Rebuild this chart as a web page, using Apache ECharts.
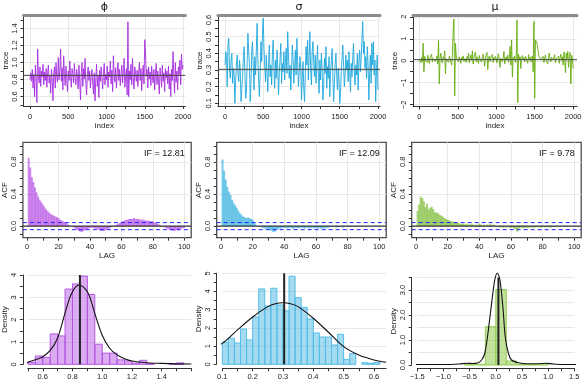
<!DOCTYPE html>
<html>
<head>
<meta charset="utf-8">
<title>MCMC diagnostics</title>
<script src="https://cdn.jsdelivr.net/npm/echarts@6/dist/echarts.min.js"></script>
<style>
html, body { margin: 0; padding: 0; background: #fff; }
#main { width: 585px; height: 390px; }
</style>
</head>
<body>
<div id="main"></div>
<script>
// ---- data ----
var titles = ['\u03d5', '\u03c3', '\u03bc'];
var ifLabels = ['IF = 12.81', 'IF = 12.09', 'IF = 9.78'];

// traces, one value every 10 iterations (0..2000)
var phiTrace = [
    0.80,0.88,0.78,0.92,0.70,0.86,0.60,0.97,0.82,0.53,1.16,0.84,0.76,0.95,0.72,0.90,0.83,0.98,0.74,0.89,
    0.79,0.93,0.71,0.87,0.97,0.76,0.85,0.64,0.92,0.81,0.55,0.88,0.95,0.70,1.00,0.83,0.77,1.06,0.80,0.91,
    1.16,0.78,0.94,0.68,1.08,0.86,0.73,0.96,0.82,0.66,0.90,0.79,1.02,0.84,0.71,0.93,0.87,0.76,0.99,0.81,
    0.74,0.92,0.85,0.69,0.97,0.78,0.56,0.88,1.00,0.72,0.93,0.81,1.05,0.75,0.62,0.86,0.95,0.79,0.90,0.70,
    0.84,0.92,0.76,0.63,0.88,0.55,0.81,0.98,0.72,0.85,0.59,0.91,0.78,0.95,0.82,0.69,0.87,0.99,0.74,0.86,
    0.80,0.96,0.71,0.89,0.83,1.02,0.75,0.91,0.66,1.08,0.85,0.77,0.94,0.70,0.88,1.00,0.79,0.92,0.73,0.86,
    0.97,0.76,0.89,1.05,0.71,0.84,0.93,0.62,1.48,0.60,0.90,0.80,0.98,0.74,1.05,0.83,0.69,0.95,0.86,0.78,
    0.91,0.72,0.88,1.00,0.79,0.93,0.67,0.86,0.97,0.75,1.27,1.12,0.84,0.92,0.70,0.95,0.81,0.89,0.73,0.96,
    0.83,0.76,0.92,0.68,0.87,0.99,0.74,0.90,0.80,0.63,0.94,0.85,0.71,0.97,0.78,0.88,0.66,0.93,0.82,0.90,
    0.75,0.96,0.69,0.87,0.60,0.92,0.79,1.13,0.84,0.64,1.00,0.77,0.90,0.68,0.95,0.86,1.03,0.74,1.10,0.92,
    0.97
];
var sigmaTrace = [
    0.33,0.41,0.38,0.20,0.46,0.49,0.30,0.25,0.36,0.40,0.22,0.31,0.27,0.10,0.24,0.34,0.39,0.28,0.23,0.36,
    0.30,0.11,0.19,0.26,0.37,0.44,0.29,0.13,0.16,0.35,0.52,0.41,0.33,0.11,0.22,0.42,0.47,0.31,0.18,0.38,
    0.27,0.42,0.58,0.36,0.24,0.14,0.29,0.47,0.35,0.51,0.61,0.43,0.32,0.23,0.39,0.28,0.17,0.34,0.45,0.26,
    0.33,0.21,0.40,0.48,0.30,0.19,0.36,0.25,0.42,0.31,0.15,0.28,0.37,0.46,0.22,0.34,0.29,0.41,0.24,0.35,
    0.43,0.28,0.53,0.39,0.25,0.33,0.18,0.30,0.45,0.37,0.22,0.32,0.42,0.27,0.49,0.35,0.20,0.29,0.38,0.31,
    0.12,0.25,0.35,0.19,0.11,0.28,0.44,0.33,0.48,0.24,0.38,0.53,0.30,0.21,0.41,0.47,0.34,0.26,0.39,0.22,
    0.33,0.45,0.27,0.16,0.36,0.24,0.40,0.30,0.12,0.21,0.37,0.28,0.44,0.19,0.32,0.25,0.38,0.14,0.29,0.35,
    0.43,0.26,0.11,0.22,0.34,0.40,0.27,0.18,0.31,0.24,0.10,0.16,0.29,0.37,0.45,0.33,0.20,0.27,0.39,0.30,
    0.36,0.23,0.41,0.29,0.17,0.34,0.26,0.38,0.46,0.30,0.21,0.33,0.27,0.40,0.18,0.35,0.42,0.29,0.37,0.49,
    0.59,0.40,0.47,0.31,0.38,0.25,0.44,0.34,0.12,0.28,0.39,0.22,0.46,0.33,0.47,0.27,0.36,0.11,0.30,0.39,
    0.18
];
var muTrace = [
    0.05,0.12,-0.10,0.15,-0.05,0.80,-0.50,0.20,0.02,0.10,-0.08,0.25,0.05,-0.12,0.14,0.08,0.30,-0.06,0.11,0.04,
    0.16,-0.04,0.09,0.22,-0.15,0.92,-1.05,0.12,0.35,0.02,-0.10,0.18,0.06,0.45,-0.60,0.10,0.03,0.14,-0.07,0.21,
    0.08,0.15,-0.20,0.30,1.30,1.90,-1.60,0.80,0.25,0.05,0.12,-0.05,0.18,0.09,-0.12,0.16,0.04,0.22,-0.02,0.10,
    0.14,-0.08,0.20,0.06,0.35,-0.10,0.11,0.26,0.02,0.45,-0.15,0.13,0.07,0.40,-0.05,0.18,0.09,-0.12,0.24,0.05,
    0.12,-0.06,0.19,0.30,0.04,-0.25,0.16,0.08,0.38,-0.40,0.10,0.22,-0.03,0.14,0.06,0.28,-0.08,0.15,0.03,0.20,
    0.09,-0.10,0.17,0.32,0.05,-0.30,0.12,0.20,-0.04,0.10,0.42,-0.15,0.08,0.18,0.02,0.26,-0.07,0.13,0.65,-0.20,
    0.95,-0.75,0.15,0.05,0.22,-0.08,0.12,1.85,-1.90,0.30,0.06,0.18,-0.35,0.10,0.24,0.03,0.15,-0.05,0.20,0.08,
    0.14,-0.12,0.28,0.05,0.17,-0.06,0.10,0.22,-0.50,1.78,-1.70,0.95,0.88,0.80,0.55,0.30,0.18,0.12,0.06,0.15,
    0.04,0.20,-0.08,0.13,0.26,0.02,0.10,-0.14,0.18,0.35,0.07,-0.05,0.15,0.22,0.03,0.12,0.28,-0.10,0.09,0.17,
    0.05,0.21,-0.12,0.14,0.30,0.02,0.18,-0.20,0.40,0.10,-0.55,0.35,0.06,0.42,-0.30,0.20,0.38,-1.05,0.25,0.12,
    -0.35
];
var traceStep = 10;
var posteriorMeans = [0.85, 0.304, 0.05];

// autocorrelation, lags 1..100
var phiAcf = [
    0.85,0.73,0.61,0.55,0.48,0.42,0.37,0.33,0.30,0.27, 0.24,0.21,0.19,0.17,0.15,0.14,0.13,0.12,0.11,0.10,
    0.08,0.07,0.06,0.05,0.04,0.02,0.01,0.00,-0.01,-0.02, -0.04,-0.05,-0.06,-0.07,-0.07,-0.06,-0.05,-0.04,-0.03,-0.02,
    -0.02,-0.02,-0.03,-0.03,-0.04,-0.05,-0.06,-0.06,-0.06,-0.05, -0.04,-0.03,-0.02,-0.01,0.00,0.01,0.02,0.03,0.04,0.05,
    0.06,0.07,0.08,0.08,0.09,0.09,0.09,0.10,0.09,0.09, 0.09,0.08,0.08,0.08,0.07,0.07,0.07,0.06,0.06,0.06,
    0.05,0.04,0.03,0.02,0.01,0.00,-0.01,-0.02,-0.03,-0.04, -0.05,-0.05,-0.06,-0.06,-0.05,-0.05,-0.04,-0.03,-0.03,-0.02
];
var sigmaAcf = [
    0.83,0.69,0.58,0.49,0.43,0.39,0.33,0.29,0.26,0.23, 0.19,0.16,0.14,0.12,0.11,0.10,0.11,0.10,0.09,0.08,
    0.04,0.02,0.00,-0.01,-0.01,-0.02,-0.02,-0.03,-0.03,-0.04, -0.05,-0.06,-0.07,-0.07,-0.05,-0.04,-0.03,-0.03,-0.02,-0.02,
    -0.02,-0.03,-0.02,-0.02,-0.03,-0.03,-0.02,-0.02,-0.03,-0.02, -0.02,-0.02,-0.03,-0.02,-0.02,-0.03,-0.02,-0.02,-0.03,-0.02,
    -0.03,-0.02,-0.03,-0.03,-0.02,-0.03,-0.02,-0.02,-0.01,-0.01, -0.01,-0.01,-0.02,-0.01,-0.01,-0.01,-0.02,-0.01,-0.01,-0.01,
    -0.01,-0.01,0.00,-0.01,-0.01,0.00,-0.01,0.00,-0.01,0.00, 0.00,-0.01,0.00,-0.01,0.00,0.00,-0.01,0.00,-0.01,0.00
];
var muAcf = [
    0.19,0.27,0.37,0.35,0.31,0.24,0.28,0.21,0.23,0.24, 0.21,0.17,0.17,0.16,0.14,0.13,0.12,0.10,0.09,0.08,
    0.07,0.06,0.06,0.05,0.05,0.04,0.04,0.03,0.03,0.03, 0.02,0.03,0.02,0.02,0.03,0.02,0.01,0.02,0.01,0.03,
    0.02,0.01,0.02,0.01,0.02,0.01,0.03,0.01,0.02,0.01, 0.00,-0.01,-0.02,-0.01,-0.02,-0.01,-0.02,-0.01,-0.02,-0.02,
    -0.02,-0.03,-0.04,-0.07,-0.03,-0.02,-0.02,-0.03,-0.02,-0.02, -0.02,-0.02,-0.01,-0.02,-0.02,-0.01,-0.02,-0.01,-0.02,-0.01,
    -0.01,-0.02,-0.01,-0.01,-0.02,-0.01,-0.01,-0.01,-0.01,-0.01, -0.01,0.00,-0.01,0.00,-0.01,0.00,-0.01,0.00,0.00,0.00
];
var acfBound = 0.044;

// histograms: lower bin edge and density
var phiBins = [0.50,0.55,0.60,0.65,0.70,0.75,0.80,0.85,0.90,0.95,1.00,1.05,1.10,1.15,1.20,1.25,1.30,1.45,1.50];
var phiDens = [0.09,0.37,0.31,1.36,1.27,3.37,3.60,3.95,3.13,0.90,0.50,0.50,0.20,0.15,0.05,0.18,0.02,0.02,0.06];
var phiBinWidth = 0.05;
var sigmaBins = [0.10,0.12,0.14,0.16,0.18,0.20,0.22,0.24,0.26,0.28,0.30,0.32,0.34,0.36,0.38,0.40,0.42,0.44,0.46,0.48,0.50,0.52,0.56,0.58,0.60];
var sigmaDens = [1.21,1.43,1.17,1.94,1.34,2.60,4.14,3.20,4.18,3.26,2.93,4.84,3.66,3.13,2.49,1.72,1.50,1.50,1.06,1.65,0.27,0.59,0.09,0.06,0.10];
var sigmaBinWidth = 0.02;
var muBins = [-0.6,-0.4,-0.2,0.0,0.2,0.4,0.6,0.8];
var muDens = [0.02,0.03,1.53,3.02,0.16,0.03,0.02,0.04];
var muBinWidth = 0.2;

// fitted density curves
var phiCurveX = [0.47,0.50,0.55,0.60,0.65,0.70,0.75,0.78,0.80,0.82,0.845,0.87,0.90,0.92,0.95,1.00,1.05,1.10,1.15,1.20,1.30,1.40,1.50,1.60];
var phiCurveY = [0.05,0.09,0.20,0.34,0.62,1.18,2.30,2.95,3.25,3.46,3.55,3.48,3.25,2.95,2.28,1.30,0.72,0.42,0.25,0.15,0.07,0.04,0.02,0.015];
var sigmaCurveX = [0.02,0.05,0.10,0.15,0.20,0.25,0.275,0.30,0.325,0.35,0.40,0.45,0.50,0.55,0.60,0.64];
var sigmaCurveY = [0.55,0.78,1.15,1.89,2.60,3.17,3.33,3.38,3.33,3.17,2.53,1.76,0.97,0.51,0.24,0.11];
var muCurveX = [-2.1,-1.5,-1.0,-0.7,-0.55,-0.45,-0.35,-0.27,-0.21,-0.15,-0.08,-0.02,0.03,0.08,0.14,0.18,0.24,0.30,0.43,0.60,0.80,0.95,1.10,1.30,1.50,1.70];
var muCurveY = [0.01,0.02,0.02,0.04,0.07,0.06,0.08,0.20,0.47,1.27,2.47,3.40,3.67,3.40,2.20,1.13,0.47,0.20,0.09,0.05,0.05,0.07,0.04,0.02,0.02,0.01];

// tick and label values
var traceXTicks = [0,250,500,750,1000,1250,1500,1750,2000];
var traceXLabels = [0,500,1000,1500,2000];
var phiYTicks = [0.5,0.6,0.7,0.8,0.9,1.0,1.1,1.2,1.3,1.4,1.5];
var phiYLabels = [0.6,0.8,1.0,1.2,1.4];
var sigmaYTicks = [0.1,0.15,0.2,0.25,0.3,0.35,0.4,0.45,0.5,0.55,0.6];
var sigmaYLabels = [0.1,0.2,0.3,0.4,0.5,0.6];
var muYTicks = [-2,-1.5,-1,-0.5,0,0.5,1,1.5,2];
var muYLabels = [-2,-1,0,1,2];
var lagTicks = [0,10,20,30,40,50,60,70,80,90,100];
var lagLabels = [0,20,40,60,80,100];
var acfTicks = [-0.1,0,0.1,0.2,0.3,0.4,0.5,0.6,0.7,0.8,0.9,1.0];
var acfLabels = [0,0.4,0.8];
var phiDensXTicks = [0.5,0.6,0.7,0.8,0.9,1.0,1.1,1.2,1.3,1.4,1.5,1.6];
var phiDensXLabels = [0.6,0.8,1.0,1.2,1.4];
var phiDensYTicks = [0,0.5,1,1.5,2,2.5,3,3.5,4];
var phiDensYLabels = [0,1,2,3,4];
var sigmaDensXTicks = [0.1,0.15,0.2,0.25,0.3,0.35,0.4,0.45,0.5,0.55,0.6];
var sigmaDensXLabels = [0.1,0.2,0.3,0.4,0.5,0.6];
var sigmaDensYTicks = [0,0.5,1,1.5,2,2.5,3,3.5,4,4.5,5];
var sigmaDensYLabels = [0,1,2,3,4,5];
var muDensXTicks = [-1.5,-1.25,-1,-0.75,-0.5,-0.25,0,0.25,0.5,0.75,1,1.25,1.5];
var muDensXLabels = [-1.5,-1,-0.5,0,0.5,1,1.5];
var muDensYTicks = [0,0.5,1,1.5,2,2.5,3,3.5];
var muDensYLabels = [0,1,2,3];

// ---- styling ----
var FONT = '"Liberation Sans", Arial, Helvetica, sans-serif';
var palette = [
    { line: '#a62fe0', acf: 'rgba(168,46,224,0.55)', fill: 'rgba(175,70,225,0.45)', stroke: '#b457e4' },
    { line: '#1ea7dc', acf: 'rgba(30,167,220,0.6)', fill: 'rgba(40,170,220,0.42)', stroke: '#56bde6' },
    { line: '#67ad0e', acf: 'rgba(110,180,30,0.6)', fill: 'rgba(120,190,40,0.45)', stroke: '#96cc55' }
];

var option = {
    animation: false,
    backgroundColor: '#fff',
    grid: [], xAxis: [], yAxis: [], series: [], graphic: []
};

var fmt = function (d) {
    return function (v) {
        var s = (+v).toFixed(d);
        if (s.charAt(0) === '-') { s = '\u2212' + s.slice(1); }
        return s;
    };
};

var addPanel = function (p) {
    var gi = option.grid.length;
    var xi = option.xAxis.length;
    var yi = option.yAxis.length;
    option.grid.push({
        left: p.box[0], top: p.box[1], width: p.box[2], height: p.box[3],
        show: !!p.frame, borderColor: '#4d4d4d', borderWidth: 1.3, backgroundColor: 'transparent'
    });
    option.xAxis.push({
        gridIndex: gi, type: 'value', position: 'bottom', min: p.x[0], max: p.x[1], offset: p.xOffset || 0,
        axisLine: { show: !p.frame, onZero: false, lineStyle: { color: '#333', width: 1 } },
        axisTick: { show: true, length: 3, customValues: p.xTicks, lineStyle: { color: '#333', width: 1 } },
        axisLabel: { customValues: p.xLabels, formatter: fmt(p.xDigits), fontSize: 7.5, color: '#222', margin: p.xMargin, fontFamily: FONT },
        splitLine: { show: false },
        name: p.xName || '', nameLocation: 'middle', nameGap: p.xNameGap || 15,
        nameTextStyle: { fontSize: 8, color: '#222', fontFamily: FONT }
    });
    option.xAxis.push({
        gridIndex: gi, type: 'value', position: 'top', min: p.x[0], max: p.x[1],
        axisLine: { show: !!p.strip, onZero: false, lineStyle: { color: '#8c8c8c', width: 3 } },
        axisTick: { show: false, customValues: p.xGrid || [] },
        axisLabel: { show: false },
        splitLine: { show: !!p.xGrid, lineStyle: { color: '#e8e8e8', width: 1 } }
    });
    option.yAxis.push({
        gridIndex: gi, type: 'value', position: 'left', min: p.y[0], max: p.y[1], offset: p.yOffset || 0,
        axisLine: { show: !p.frame, onZero: false, lineStyle: { color: '#333', width: 1 } },
        axisTick: { show: true, length: 3, customValues: p.yTicks, lineStyle: { color: '#333', width: 1 } },
        axisLabel: { customValues: p.yLabels, formatter: fmt(p.yDigits), rotate: 90, fontSize: 7.5, color: '#222', margin: 5, fontFamily: FONT },
        splitLine: { show: false },
        name: p.yName, nameLocation: 'middle', nameRotate: 90, nameGap: 13.5,
        nameTextStyle: { fontSize: 8, color: '#222', fontFamily: FONT }
    });
    option.yAxis.push({
        gridIndex: gi, type: 'value', position: 'right', min: p.y[0], max: p.y[1],
        axisLine: { show: false, onZero: false },
        axisTick: { show: false, customValues: p.yGrid || [] },
        axisLabel: { show: false },
        splitLine: { show: !!p.yGrid, lineStyle: { color: '#e8e8e8', width: 1 } }
    });
    return { x: xi, y: yi };
};

// horizontal or vertical reference line across a grid
var refLine = function (ax, values, dir, color, width, dash, z) {
    return {
        type: 'custom', xAxisIndex: ax.x, yAxisIndex: ax.y, z: z || 3, silent: true,
        data: values.map(function (v) { return dir === 'h' ? [0, v] : [v, 0]; }),
        renderItem: function (params, api) {
            var cs = params.coordSys;
            var pt = api.coord([api.value(0), api.value(1)]);
            var shape = dir === 'h'
                ? { x1: cs.x, y1: pt[1], x2: cs.x + cs.width, y2: pt[1] }
                : { x1: pt[0], y1: cs.y, x2: pt[0], y2: cs.y + cs.height };
            return { type: 'line', shape: shape, style: { stroke: color, lineWidth: width, lineDash: dash || null } };
        }
    };
};

// ---- row 1: traces ----
var traces = [phiTrace, sigmaTrace, muTrace];
var traceLayout = [
    { box: [23.5, 15, 161.8, 91], x: [-85, 2030], y: [0.49, 1.56], yTicks: phiYTicks, yLabels: phiYLabels, yDigits: 1 },
    { box: [218, 15, 162, 91], x: [-91, 2026], y: [0.084, 0.63], yTicks: sigmaYTicks, yLabels: sigmaYLabels, yDigits: 1 },
    { box: [413, 15, 164, 91.5], x: [-82, 2050], y: [-2.08, 2.08], yTicks: muYTicks, yLabels: muYLabels, yDigits: 0 }
];
traceLayout.forEach(function (L, i) {
    var ax = addPanel({
        box: L.box, x: L.x, y: L.y, strip: true,
        xTicks: traceXTicks, xLabels: traceXLabels, xDigits: 0, xMargin: 6.5, xName: 'index', xNameGap: 15,
        xGrid: traceXLabels,
        yTicks: L.yTicks, yLabels: L.yLabels, yDigits: L.yDigits, yName: 'trace', yGrid: L.yLabels
    });
    option.series.push({
        type: 'line', xAxisIndex: ax.x, yAxisIndex: ax.y, showSymbol: false, silent: true, z: 2,
        lineStyle: { color: palette[i].line, width: 0.9 },
        data: traces[i].map(function (v, k) { return [k * traceStep, v]; })
    });
    option.series.push(refLine(ax, [posteriorMeans[i]], 'h', '#444', 1, null, 4));
    option.graphic.push({
        type: 'text', z: 100, x: L.box[0] + L.box[2] / 2, y: 7,
        style: { text: titles[i], fontSize: 11, fontFamily: '"DejaVu Sans", sans-serif', fill: '#111', align: 'center', verticalAlign: 'middle' }
    });
});

// ---- row 2: autocorrelation ----
var acfs = [phiAcf, sigmaAcf, muAcf];
var acfLefts = [21.7, 216.7, 411.7];
acfLefts.forEach(function (left, i) {
    var ax = addPanel({
        box: [left, 142.3, 169.5, 95.4], x: [-2.7, 104.4], y: [-0.144, 1.044], frame: true,
        xTicks: lagTicks, xLabels: lagLabels, xDigits: 0, xMargin: 5, xName: 'LAG', xNameGap: 14.5,
        xGrid: [20, 40, 60, 80, 100],
        yTicks: acfTicks, yLabels: acfLabels, yDigits: 1, yName: 'ACF', yGrid: [0.4, 0.8]
    });
    var col = palette[i].acf;
    option.series.push({
        type: 'custom', xAxisIndex: ax.x, yAxisIndex: ax.y, silent: true, z: 2,
        data: acfs[i].map(function (v, k) { return [k + 1, v]; }),
        renderItem: function (params, api) {
            var a = api.coord([api.value(0), 0]);
            var b = api.coord([api.value(0), api.value(1)]);
            return { type: 'line', shape: { x1: a[0], y1: a[1], x2: b[0], y2: b[1] }, style: { stroke: col, lineWidth: 2 } };
        }
    });
    option.series.push(refLine(ax, [0], 'h', '#333', 1.2, null, 4));
    option.series.push(refLine(ax, [acfBound, -acfBound], 'h', '#2424ff', 1, [4, 3], 5));
    option.graphic.push({
        type: 'text', z: 100, x: left + 163, y: 154,
        style: { text: ifLabels[i], fontSize: 9, fontFamily: FONT, fill: '#111', align: 'right', verticalAlign: 'middle' }
    });
});

// ---- row 3: posterior densities ----
var densPanels = [
    { box: [27.4, 275, 164, 89.3], x: [0.5, 1.6], y: [0, 4], yOffset: 5, xOffset: 4,
      xTicks: phiDensXTicks, xLabels: phiDensXLabels, yTicks: phiDensYTicks, yLabels: phiDensYLabels, yDigits: 0, yGrid: [1, 2, 3, 4],
      bins: phiBins, dens: phiDens, width: phiBinWidth, cx: phiCurveX, cy: phiCurveY },
    { box: [222.3, 273.3, 163.8, 91], x: [0.1, 0.64], y: [0, 5], yOffset: 5.6, xOffset: 4,
      xTicks: sigmaDensXTicks, xLabels: sigmaDensXLabels, yTicks: sigmaDensYTicks, yLabels: sigmaDensYLabels, yDigits: 0, yGrid: [1, 2, 3, 4, 5],
      bins: sigmaBins, dens: sigmaDens, width: sigmaBinWidth, cx: sigmaCurveX, cy: sigmaCurveY },
    { box: [417.3, 277.5, 157, 87.5], x: [-1.5, 1.5], y: [0, 3.5], yOffset: 5.6, xOffset: 3.3,
      xTicks: muDensXTicks, xLabels: muDensXLabels, yTicks: muDensYTicks, yLabels: muDensYLabels, yDigits: 1, yGrid: [0.5, 1, 1.5, 2, 2.5, 3, 3.5],
      bins: muBins, dens: muDens, width: muBinWidth, cx: muCurveX, cy: muCurveY }
];
densPanels.forEach(function (D, i) {
    var ax = addPanel({
        box: D.box, x: D.x, y: D.y, xOffset: D.xOffset, yOffset: D.yOffset,
        xTicks: D.xTicks, xLabels: D.xLabels, xDigits: 1, xMargin: 4.5,
        yTicks: D.yTicks, yLabels: D.yLabels, yDigits: D.yDigits, yName: 'Density', yGrid: D.yGrid
    });
    var w = D.width, fill = palette[i].fill, stroke = palette[i].stroke;
    option.series.push({
        type: 'custom', xAxisIndex: ax.x, yAxisIndex: ax.y, silent: true, z: 2,
        data: D.bins.map(function (b, k) { return [b, D.dens[k]]; }),
        renderItem: function (params, api) {
            var a = api.coord([api.value(0), api.value(1)]);
            var b = api.coord([api.value(0) + w, 0]);
            return { type: 'rect', shape: { x: a[0], y: a[1], width: b[0] - a[0], height: b[1] - a[1] },
                     style: { fill: fill, stroke: stroke, lineWidth: 1 } };
        }
    });
    option.series.push({
        type: 'line', xAxisIndex: ax.x, yAxisIndex: ax.y, showSymbol: false, silent: true, clip: false, smooth: 0.3, z: 3,
        lineStyle: { color: '#111', width: 1.1 },
        data: D.cx.map(function (x, k) { return [x, D.cy[k]]; })
    });
    option.series.push(refLine(ax, [posteriorMeans[i]], 'v', '#222', 2, null, 4));
});

var chart = echarts.init(document.getElementById('main'), null, { renderer: 'canvas' });
chart.setOption(option);
</script>
</body>
</html>
